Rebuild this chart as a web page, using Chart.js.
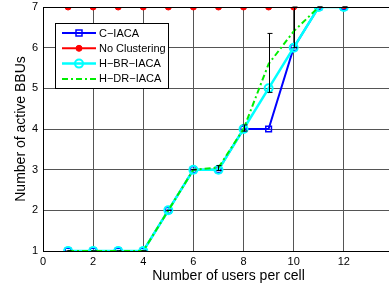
<!doctype html>
<html lang="en">
<head>
    <meta charset="utf-8">
    <title>Active BBUs vs users per cell</title>
    <script src="https://cdn.jsdelivr.net/npm/chart.js"></script>
    <style>
        html, body { margin: 0; padding: 0; background: #fff; overflow: hidden; }
        #wrap { width: 420px; height: 285px; }
    </style>
</head>
<body>
    <div id="wrap"><canvas id="chart" width="420" height="285"></canvas></div>
    <script>
        const users = [1, 2, 3, 4, 5, 6, 7, 8, 9, 10, 11, 12];
        const cIaca = [1, 1, 1, 1, 2, 3, 3, 4, 4, 6, 7, 7];
        const noClustering = [7, 7, 7, 7, 7, 7, 7, 7, 7, 7, 7, 7];
        const hBrIaca = [1, 1, 1, 1, 2, 3, 3, 4, 5, 6, 7, 7];
        const hDrIaca = [1, 1, 1, 1, 2, 3, 3.05, 4, 5.6, 6.4, 7, 7];
        const errLow = [1, 1, 1, 1, 2, 3, 2.98, 3.95, 4.9, 6.0, 7, 7];
        const errHigh = [1, 1, 1, 1, 2, 3, 3.1, 4.1, 6.35, 7, 7, 7];
        const xTicks = [0, 2, 4, 6, 8, 10, 12];

        const pts = arr => arr.map((v, i) => ({ x: users[i], y: v }));

        // error bars + top border
        const extras = {
            id: 'extras',
            afterDatasetsDraw(chart) {
                const { ctx, scales: { x, y }, chartArea } = chart;
                ctx.save();
                ctx.strokeStyle = '#000';
                ctx.lineWidth = 1;
                users.forEach((u, i) => {
                    const px = Math.round(x.getPixelForValue(u)) + 0.5;
                    const lo = y.getPixelForValue(errLow[i]);
                    const hi = y.getPixelForValue(errHigh[i]);
                    ctx.beginPath();
                    ctx.moveTo(px, lo); ctx.lineTo(px, hi);
                    ctx.moveTo(px - 2, lo); ctx.lineTo(px + 3, lo);
                    ctx.moveTo(px - 2, hi); ctx.lineTo(px + 3, hi);
                    ctx.stroke();
                });
                ctx.beginPath();
                ctx.moveTo(chartArea.left, chartArea.top + 0.5);
                ctx.lineTo(chartArea.right, chartArea.top + 0.5);
                ctx.stroke();
                ctx.restore();
            }
        };

        // legend box drawn inside plot
        const boxLegend = {
            id: 'boxLegend',
            afterDraw(chart) {
                const { ctx } = chart;
                const bx = 55.5, by = 23.5, bw = 113, bh = 65;
                ctx.save();
                ctx.fillStyle = '#fff';
                ctx.fillRect(bx, by, bw, bh);
                ctx.strokeStyle = '#000';
                ctx.lineWidth = 1;
                ctx.strokeRect(bx, by, bw, bh);
                ctx.font = '11px "Liberation Sans", Arial, sans-serif';
                ctx.textBaseline = 'middle';
                chart.data.datasets.slice().sort((a, b) => a.legendIdx - b.legendIdx).forEach((ds, i) => {
                    const ly = 33 + i * 15.3;
                    ctx.strokeStyle = ds.borderColor;
                    ctx.lineWidth = ds.borderWidth;
                    ctx.setLineDash(ds.borderDash || []);
                    ctx.beginPath();
                    ctx.moveTo(62, ly); ctx.lineTo(96, ly);
                    ctx.stroke();
                    ctx.setLineDash([]);
                    if (ds.pointRadius > 0) {
                        ctx.lineWidth = ds.pointBorderWidth;
                        ctx.strokeStyle = ds.pointBorderColor;
                        ctx.fillStyle = ds.pointBackgroundColor;
                        ctx.beginPath();
                        if (ds.pointStyle === 'rect') {
                            ctx.rect(79 - 3, ly - 3, 6, 6);
                        } else {
                            ctx.arc(79, ly, ds.pointRadius, 0, Math.PI * 2);
                        }
                        ctx.fill();
                        ctx.stroke();
                    }
                    ctx.fillStyle = '#000';
                    ctx.fillText(ds.label, 99, ly + 0.5);
                });
                ctx.restore();
            }
        };

        new Chart(document.getElementById('chart'), {
            type: 'line',
            data: {
                datasets: [
                    {
                        label: 'C\u2212IACA', legendIdx: 0, data: pts(cIaca), order: 3,
                        borderColor: '#0000ff', borderWidth: 2,
                        pointStyle: 'rect', pointRadius: 4, pointBorderWidth: 1.5,
                        pointBorderColor: '#0000ff', pointBackgroundColor: 'rgba(0,0,0,0)'
                    },
                    {
                        label: 'No Clustering', legendIdx: 1, data: pts(noClustering), order: 4,
                        borderColor: '#ff0000', borderWidth: 2,
                        pointStyle: 'circle', pointRadius: 3, pointBorderWidth: 1,
                        pointBorderColor: '#ff0000', pointBackgroundColor: '#ff0000'
                    },
                    {
                        label: 'H\u2212BR\u2212IACA', legendIdx: 2, data: pts(hBrIaca), order: 2,
                        borderColor: '#00ffff', borderWidth: 2.5,
                        pointStyle: 'circle', pointRadius: 4, pointBorderWidth: 2,
                        pointBorderColor: '#00ffff', pointBackgroundColor: 'rgba(0,0,0,0)'
                    },
                    {
                        label: 'H\u2212DR\u2212IACA', legendIdx: 3, data: pts(hDrIaca), order: 1,
                        borderColor: '#00ee00', borderWidth: 2, borderDash: [6, 3, 2, 3],
                        pointRadius: 0
                    }
                ]
            },
            options: {
                responsive: false,
                animation: false,
                layout: { padding: { top: 7, right: 0, left: 0, bottom: 0 } },
                plugins: { legend: { display: false }, tooltip: { enabled: false } },
                elements: { line: { tension: 0 } },
                scales: {
                    x: {
                        type: 'linear', min: 0, max: 14.8,
                        afterBuildTicks: s => { s.ticks = xTicks.map(v => ({ value: v })); },
                        afterFit: s => { s.height = 34; s.paddingLeft = 0; s.paddingRight = 0; },
                        grid: { color: '#555', borderDash: [1, 3], drawTicks: false },
                        border: { color: '#000', width: 1 },
                        ticks: { color: '#000', padding: 4, maxRotation: 0,
                                 font: { family: '"Liberation Sans", Arial, sans-serif', size: 11 } },
                        title: { display: true, text: 'Number of users per cell', color: '#000', padding: { top: 0, bottom: 0 },
                                 font: { family: '"Liberation Sans", Arial, sans-serif', size: 14 } }
                    },
                    y: {
                        min: 1, max: 7,
                        afterFit: s => { s.width = 43; s.paddingTop = 0; s.paddingBottom = 0; },
                        grid: { color: '#555', borderDash: [1, 3], drawTicks: false },
                        border: { color: '#000', width: 1 },
                        ticks: { stepSize: 1, color: '#000', padding: 5,
                                 font: { family: '"Liberation Sans", Arial, sans-serif', size: 11 } },
                        title: { display: true, text: 'Number of active BBUs', color: '#000', padding: { top: 13, bottom: 0 },
                                 font: { family: '"Liberation Sans", Arial, sans-serif', size: 14 } }
                    }
                }
            },
            plugins: [extras, boxLegend]
        });
    </script>
</body>
</html>
